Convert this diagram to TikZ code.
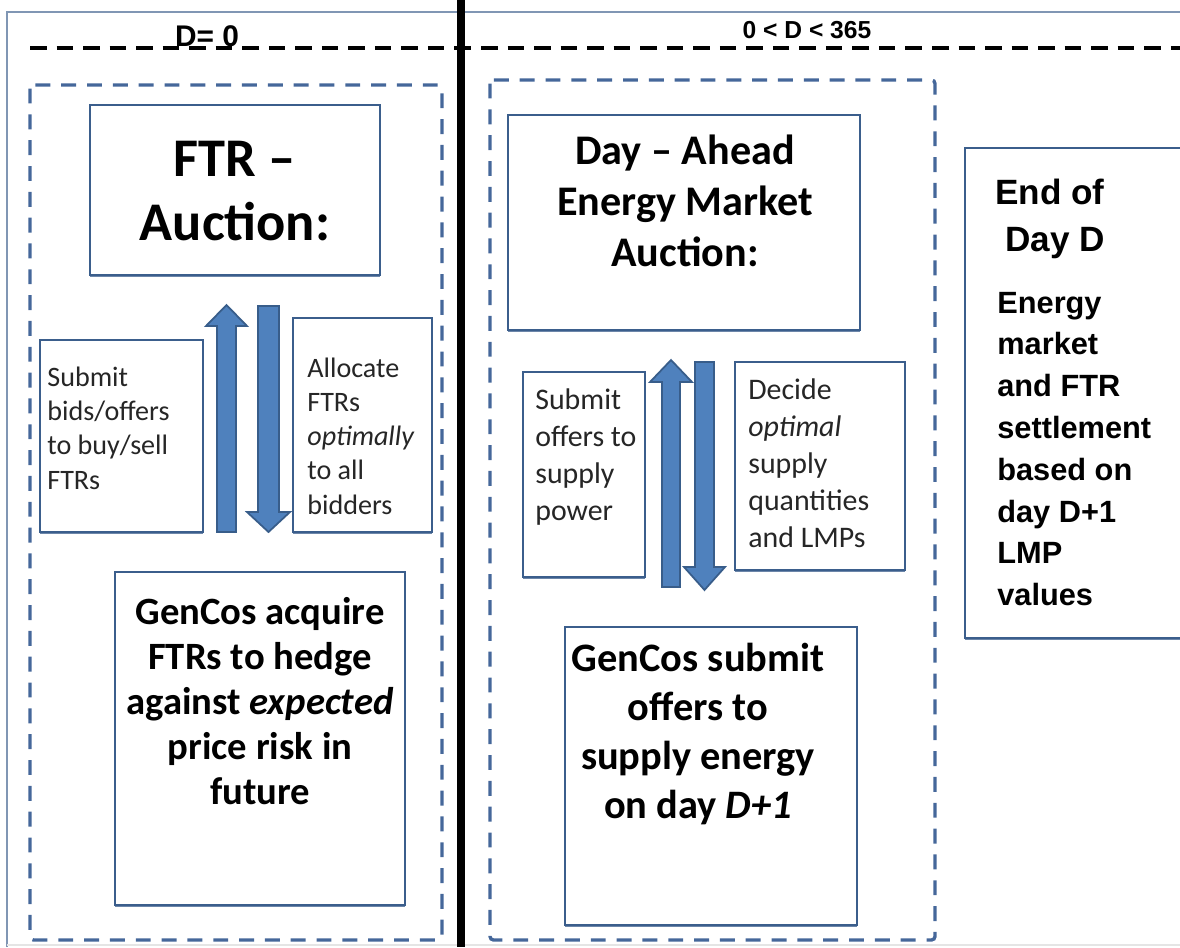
\documentclass[tikz,border=0pt]{standalone}
\usepackage{fontspec}
\setmainfont{Carlito}
\newfontfamily\arialfont{Liberation Sans}
\usetikzlibrary{shadows}
\definecolor{boxblue}{HTML}{3B5E8C}
\definecolor{dashblue}{HTML}{45679A}
\definecolor{arrowfill}{HTML}{4F81BD}
\definecolor{arrowline}{HTML}{385D8A}
\definecolor{framegray}{HTML}{8096B4}
\tikzset{
  box/.style={draw=boxblue, line width=1.1pt, fill=white, drop shadow={shadow xshift=0.2pt, shadow yshift=-1.4pt, fill=boxblue!75, opacity=1}},
  zone/.style={draw=dashblue, line width=1.9pt, dash pattern=on 8.5pt off 6.2pt, rounded corners=2pt},
  blockarr/.style={fill=arrowfill, draw=arrowline, line width=1pt, line join=miter},
  smalltxt/.style={font=\fontsize{16}{19.5}\selectfont, align=left, anchor=west, inner sep=0pt, text=black!85},
  midtxt/.style={font=\fontsize{17}{21}\selectfont, align=left, anchor=west, inner sep=0pt, text=black!85},
  bigtxt/.style={font=\bfseries, align=center, inner sep=0pt},
  daylabel/.style={font=\arialfont\bfseries, inner sep=0pt}
}
\begin{document}
\begin{tikzpicture}[x=0.02cm, y=-0.02cm]
\useasboundingbox (0,0) rectangle (1180,947);
\draw[framegray, line width=1pt] (7,947) -- (7,12) -- (1190,12);
\draw[black!10, line width=0.6pt] (7,945) -- (1190,945);

\node[daylabel, font=\arialfont\bfseries\fontsize{17}{20}\selectfont] (d0) at (207,36) {D= 0};
\node[daylabel, font=\arialfont\bfseries\fontsize{14}{17}\selectfont] (drange) at (807,30) {0 < D < 365};
\draw[line width=2.3pt, dash pattern=on 9.4pt off 5.7pt] (30,48) -- (1180,48);
\draw[line width=4.6pt] (461,0) -- (461,947);

\draw[zone] (30,85) rectangle (442,940);
\draw[zone] (490,80) rectangle (935,940);

\draw[box] (90,105) rectangle (380,275);\node[bigtxt, font=\bfseries\fontsize{31}{36}\selectfont] (ftr) at (235,191) {FTR –\\Auction:};
\draw[box] (40,340) rectangle (203,532);\node[smalltxt] (bids) at (47,428) {Submit\\bids/offers\\to buy/sell\\FTRs};
\draw[box] (293,318) rectangle (432,532);\node[smalltxt] (alloc) at (307,436) {Allocate\\FTRs\\\textit{optimally}\\to all\\bidders};
\draw[blockarr] (217,532) -- (217,326) -- (206,326) -- (226.5,305) -- (247,326) -- (236,326) -- (236,532) -- cycle;
\draw[blockarr] (258,306) -- (279,306) -- (279,512) -- (290,512) -- (268.5,532) -- (247,512) -- (258,512) -- cycle;
\draw[box] (115,572) rectangle (405,905);\node[bigtxt, font=\bfseries\fontsize{22}{25.5}\selectfont] (acquire) at (260,701) {GenCos acquire\\FTRs to hedge\\against \textit{expected}\\price risk in\\future};

\draw[box] (508,115) rectangle (860,330);\node[bigtxt, font=\bfseries\fontsize{24}{29}\selectfont] (dayahead) at (685,201) {Day – Ahead\\Energy Market\\Auction:};
\draw[box] (523,372) rectangle (645,577);\node[midtxt] (offers) at (535,457) {Submit\\offers to\\supply\\power};
\draw[box] (735,362) rectangle (905,570);\node[midtxt] (decide) at (748,463) {Decide\\\textit{optimal}\\supply\\quantities\\and LMPs};
\draw[blockarr] (662,587) -- (662,382) -- (650,382) -- (671,360) -- (692,382) -- (680,382) -- (680,587) -- cycle;
\draw[blockarr] (695,362) -- (714,362) -- (714,567) -- (725,567) -- (704.5,590) -- (684,567) -- (695,567) -- cycle;
\draw[box] (565,627) rectangle (857,925);\node[bigtxt, font=\bfseries\fontsize{23}{28}\selectfont] (submit) at (698,734) {GenCos submit\\offers to\\supply energy\\on day \textit{D+1}};

\draw[box] (965,148) rectangle (1195,638);
\node[inner sep=0pt, align=left, anchor=west, font=\arialfont\bfseries\fontsize{20}{27}\selectfont] (endday) at (995,219) {End of\\\ Day D};
\node[inner sep=0pt, align=left, anchor=west, font=\arialfont\bfseries\fontsize{17.5}{23.8}\selectfont] (settle) at (997,449) {Energy\\market\\and FTR\\settlement\\based on\\day D+1\\LMP\\values};
\end{tikzpicture}
\end{document}
